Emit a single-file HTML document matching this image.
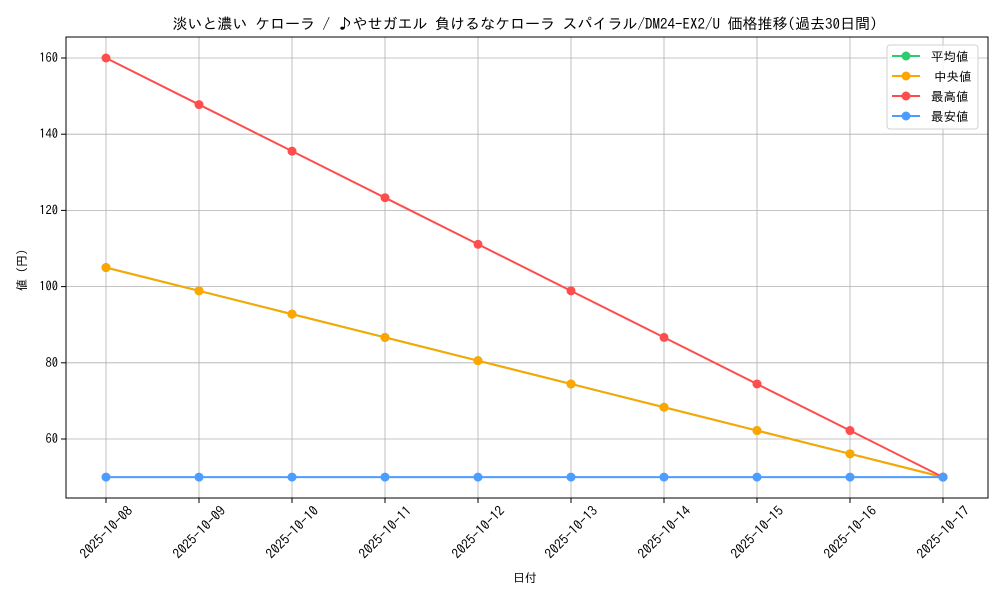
<!DOCTYPE html><html><head><meta charset="utf-8"><style>body{margin:0;background:#fff}svg{display:block}text{font-family:"IPAGothic","Noto Sans CJK JP",monospace;fill:#000}</style></head><body>
<svg id="s" width="1000" height="600" xmlns="http://www.w3.org/2000/svg"></svg>
<script>
const s=document.getElementById('s');let h='';
const L=66,R=988,T=37,B=498;
const X=i=>106+i*93,Y=v=>58+(160-v)*3.81;
h+=`<text x="525" y="29" font-size="15" text-anchor="middle">淡いと濃い ケローラ / ♪やせガエル 負けるなケローラ スパイラル/DM24-EX2/U 価格推移(過去30日間)</text>`;
for(let i=0;i<10;i++){const x=X(i);h+=`<line x1="${x}" y1="${T}" x2="${x}" y2="${B}" stroke="#b0b0b0" stroke-width="0.8"/><line x1="${x}" y1="${B}" x2="${x}" y2="${B+5}" stroke="#000"/>`;
h+=`<text transform="translate(${x},${B+34}) rotate(-45)" font-size="13.5" text-anchor="middle" dominant-baseline="central">2025-10-${String(8+i).padStart(2,'0')}</text>`;}
for(let v=60;v<=160;v+=20){const y=Y(v);h+=`<line x1="${L}" y1="${y}" x2="${R}" y2="${y}" stroke="#b0b0b0" stroke-width="0.8"/><line x1="${L-5}" y1="${y}" x2="${L}" y2="${y}" stroke="#000"/><text x="${L-8}" y="${y+4}" font-size="12.5" text-anchor="end">${v}</text>`;}
const ser=[['#2ecc71',i=>105-i*55/9],['#ffa500',i=>105-i*55/9],['#ff4c4c',i=>160-i*110/9],['#4c9dff',i=>50]];
for(const [c,f] of ser){let p='';for(let i=0;i<10;i++)p+=`${X(i)},${Y(f(i))} `;h+=`<polyline points="${p}" fill="none" stroke="${c}" stroke-width="2"/>`;for(let i=0;i<10;i++)h+=`<circle cx="${X(i)}" cy="${Y(f(i))}" r="4.5" fill="${c}"/>`;}
h+=`<rect x="${L}" y="${T}" width="${R-L}" height="${B-T}" fill="none" stroke="#000" stroke-width="1"/>`;
h+=`<text x="525" y="582" font-size="12" text-anchor="middle">日付</text>`;
h+=`<text transform="translate(26,270) rotate(-90)" font-size="12" text-anchor="middle">値 (円)</text>`;
h+=`<rect x="887" y="45" width="91" height="84" rx="3" fill="#fff" fill-opacity="0.8" stroke="#d0d0d0"/>`;
const lab=['平均値','中央値','最高値','最安値'];
ser.forEach(([c],k)=>{const y=56+k*20;h+=`<line x1="892" y1="${y}" x2="920" y2="${y}" stroke="${c}" stroke-width="2"/><circle cx="906" cy="${y}" r="4.5" fill="${c}"/><text x="${k==1?934:931}" y="${y+5}" font-size="12.5">${lab[k]}</text>`;});
s.innerHTML=h;
</script></body></html>
